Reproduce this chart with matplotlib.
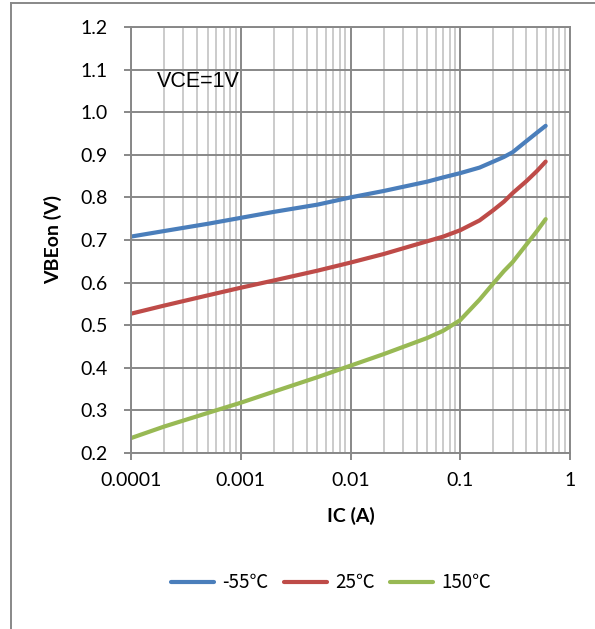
import matplotlib
matplotlib.use("Agg")
import matplotlib.pyplot as plt
from matplotlib.lines import Line2D
from matplotlib.ticker import LogLocator, FixedLocator, FixedFormatter

# collector current (A)
ic = [0.0001, 0.0002, 0.0005, 0.001, 0.002, 0.005, 0.01, 0.02, 0.05, 0.07,
      0.1, 0.15, 0.2, 0.25, 0.3, 0.4, 0.5, 0.6]
# VBEon (V) per temperature
vbe_m55 = [0.708, 0.721, 0.738, 0.752, 0.766, 0.783, 0.800, 0.815, 0.837, 0.847,
           0.857, 0.870, 0.884, 0.895, 0.906, 0.932, 0.952, 0.968]
vbe_25 = [0.527, 0.546, 0.570, 0.588, 0.605, 0.628, 0.647, 0.667, 0.697, 0.708,
          0.723, 0.746, 0.770, 0.790, 0.810, 0.838, 0.862, 0.884]
vbe_150 = [0.235, 0.262, 0.294, 0.318, 0.344, 0.378, 0.405, 0.432, 0.470, 0.487,
           0.512, 0.560, 0.598, 0.627, 0.648, 0.689, 0.721, 0.749]
labels = ["-55℃", "25℃", "150℃"]
colors = ["#4A7EBB", "#BE4B48", "#98B954"]

xticks = [0.0001, 0.001, 0.01, 0.1, 1]
xtick_labels = ["0.0001", "0.001", "0.01", "0.1", "1"]
yticks = [0.2, 0.3, 0.4, 0.5, 0.6, 0.7, 0.8, 0.9, 1.0, 1.1, 1.2]

fnt = ["Lato", "Noto Sans CJK SC"]
gcol = "#888888"

fig = plt.figure(figsize=(5.95, 6.29), dpi=100)
ax = fig.add_axes([131 / 595, 176 / 629, 439 / 595, 426 / 629])

for y, lab, c in zip([vbe_m55, vbe_25, vbe_150], labels, colors):
    ax.plot(ic, y, color=c, lw=3.0, label=lab, solid_capstyle="round",
            solid_joinstyle="round")

ax.set_xscale("log")
ax.set_xlim(0.0001, 1)
ax.set_ylim(0.2, 1.2)
ax.xaxis.set_major_locator(FixedLocator(xticks))
ax.xaxis.set_major_formatter(FixedFormatter(xtick_labels))
ax.xaxis.set_minor_locator(LogLocator(base=10, subs=range(2, 10)))
ax.set_yticks(yticks)
ax.set_yticklabels(["%.1f" % v for v in yticks])

ax.grid(which="major", color=gcol, lw=1.4)
ax.grid(which="minor", axis="x", color="#C2C2C2", lw=1.2)
ax.set_axisbelow(True)
for s in ax.spines.values():
    s.set_color(gcol)
    s.set_linewidth(1.4)

ax.tick_params(which="major", length=5, width=1.4, color=gcol,
               labelsize=14, pad=12)
ax.tick_params(axis="x", which="major", pad=9)
ax.tick_params(which="minor", length=0)
for t in ax.get_xticklabels() + ax.get_yticklabels():
    t.set_family(fnt)

ax.set_xlabel("IC (A)", family=fnt, fontsize=14, fontweight="bold", va="center")
ax.set_ylabel("VBEon (V)", family=fnt, fontsize=14, fontweight="bold", va="center")
ax.xaxis.set_label_coords(0.5, (453 - 516) / 426)
ax.yaxis.set_label_coords((53 - 131) / 439, 0.5)

ax.text(0.059, 0.871, "VCE=1V", transform=ax.transAxes, family="Liberation Sans",
        fontsize=15.5, va="center", ha="left")

leg = fig.legend(loc="center", bbox_to_anchor=(331 / 595, 1 - 583 / 629), ncol=3,
                 frameon=False,
                 prop={"family": ["Noto Sans CJK SC", "DejaVu Sans"], "size": 13.5},
                 handlelength=2.3, columnspacing=0.8, handletextpad=0.45)

# outer chart border (top and left visible)
fig.add_artist(Line2D([11 / 595, 1], [1 - 3 / 629, 1 - 3 / 629],
                      transform=fig.transFigure, color=gcol, lw=1.4))
fig.add_artist(Line2D([11 / 595, 11 / 595], [0, 1 - 3 / 629],
                      transform=fig.transFigure, color=gcol, lw=1.4))

fig.savefig("out.png", dpi=100)
